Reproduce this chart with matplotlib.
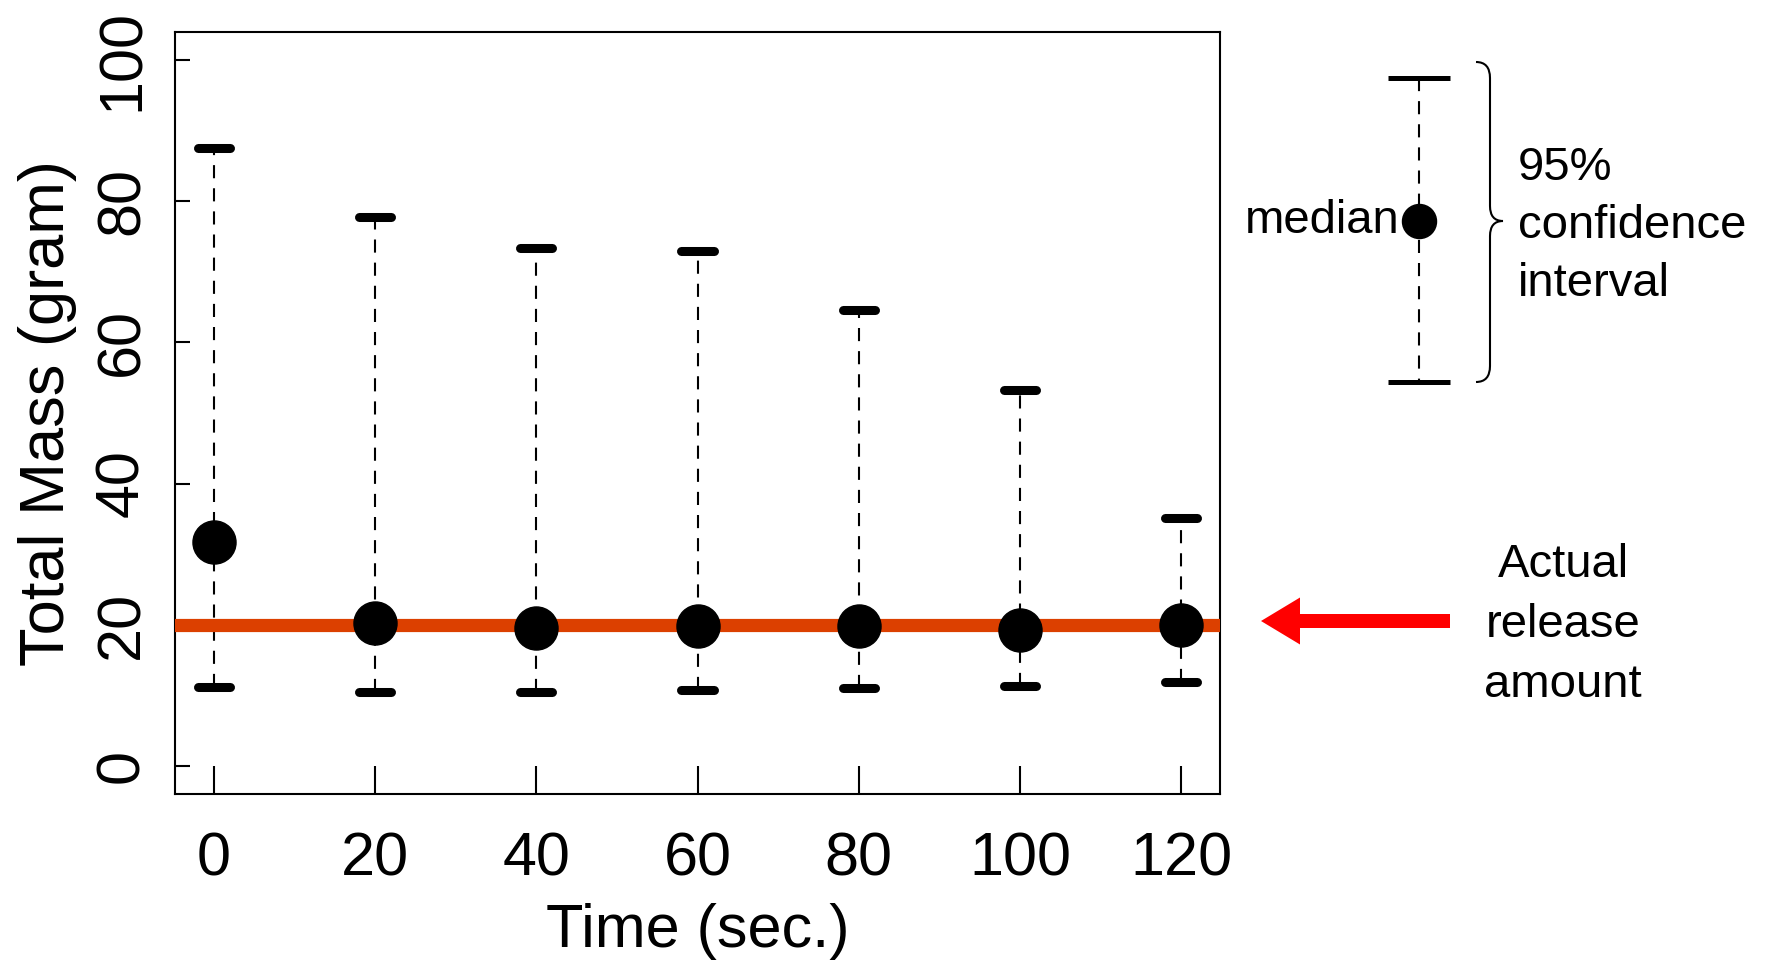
import numpy as np
import matplotlib
matplotlib.use("Agg")
import matplotlib.pyplot as plt
from matplotlib.path import Path
from matplotlib.patches import PathPatch, FancyArrow

plt.rcParams['font.family'] = ['Liberation Sans', 'DejaVu Sans']

# values
times = [0, 20, 40, 60, 80, 100, 120]
medians = [31.7, 20.3, 19.5, 19.8, 19.8, 19.2, 19.9]
upper = [87.6, 77.8, 73.4, 73.0, 64.6, 53.3, 35.1]
lower = [11.2, 10.5, 10.5, 10.7, 11.0, 11.3, 11.9]
actual_release = 20

x_ticks = [0, 20, 40, 60, 80, 100, 120]
y_ticks = [0, 20, 40, 60, 80, 100]

W, H = 1770, 964
fig = plt.figure(figsize=(W / 100, H / 100), dpi=100)
ax = fig.add_axes([175 / W, 1 - 794 / H, (1220 - 175) / W, (794 - 32) / H])

dash = (0, (6.3, 4.8))
ax.vlines(times, lower, upper, colors='black', linestyles=dash, linewidth=1.5, zorder=2)
ax.axhline(actual_release, color='#dc4000', linewidth=9.5, zorder=3)

cap_half = 2.0
cap_x = times * 2
ax.hlines(upper + lower, [t - cap_half for t in cap_x], [t + cap_half for t in cap_x],
          colors='black', linewidth=6.5, capstyle='round', zorder=4)
ax.plot(times, medians, 'o', color='black', markersize=31, zorder=5, clip_on=False)

ax.set_xlim(-4.8, 124.8)
ax.set_ylim(-4, 104)
ax.set_xticks(x_ticks)
ax.set_yticks(y_ticks)
ax.tick_params(axis='x', direction='in', length=20, width=1.5, labelsize=44, pad=27)
ax.tick_params(axis='y', direction='in', length=10.8, width=1.5, labelsize=44, pad=17,
               labelrotation=90)
for lab in ax.get_yticklabels():
    lab.set_verticalalignment('center')
for s in ax.spines.values():
    s.set_linewidth(1.5)

ax.set_xlabel('Time (sec.)', fontsize=44)
ax.xaxis.set_label_coords(0.5, -0.143)
ax.set_ylabel('Total Mass (gram)', fontsize=45.5)
ax.yaxis.set_label_coords(-0.094, 0.5)

# overlay in pixel coordinates for the key and the arrow
ov = fig.add_axes([0, 0, 1, 1])
ov.set_xlim(0, W)
ov.set_ylim(H, 0)
ov.axis('off')

leg_x = 1419
ov.plot([leg_x, leg_x], [78, 382], color='black', lw=1.5, linestyle=dash)
ov.plot([1388, 1450], [78, 78], color='black', lw=3.6, solid_capstyle='butt')
ov.plot([1388, 1450], [382, 382], color='black', lw=3.6, solid_capstyle='butt')
ov.plot([leg_x], [221], 'o', color='black', markersize=24.5)
ov.text(1400, 221, 'median', fontsize=34, ha='right', va='center')

verts = [(1476, 62), (1490, 62), (1490, 78), (1490, 206), (1490, 221), (1503, 221),
         (1490, 221), (1490, 236), (1490, 366), (1490, 382), (1476, 382)]
codes = [Path.MOVETO, Path.CURVE3, Path.CURVE3, Path.LINETO, Path.CURVE3, Path.CURVE3,
         Path.CURVE3, Path.CURVE3, Path.LINETO, Path.CURVE3, Path.CURVE3]
ov.add_patch(PathPatch(Path(verts, codes), fill=False, lw=1.5, edgecolor='black'))
ov.text(1518, 226, '95%\nconfidence\ninterval', fontsize=34, ha='left', va='center',
        linespacing=1.41)

ov.add_patch(FancyArrow(1450, 621, -189, 0, width=14, head_width=47, head_length=39,
                        length_includes_head=True, color='red', linewidth=0))
ov.text(1563, 625, 'Actual\nrelease\namount', fontsize=34, ha='center', va='center',
        multialignment='center', linespacing=1.48)

fig.savefig('out.png', dpi=100)
